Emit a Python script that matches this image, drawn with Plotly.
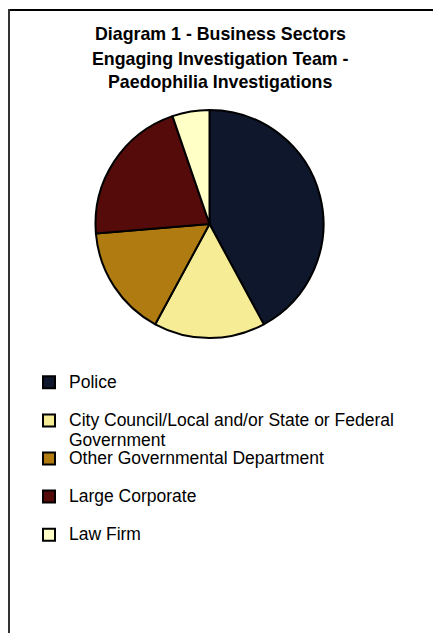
import plotly.graph_objects as go

# ---- data ----
sectors = [
    "Police",
    "City Council/Local and/or State or Federal Government",
    "Other Governmental Department",
    "Large Corporate",
    "Law Firm",
]
engagements = [8, 3, 3, 4, 1]
slice_colors = ["#0f172c", "#f7ec96", "#b07c12", "#560b0b", "#ffffc6"]
title_lines = [
    "Diagram 1 - Business Sectors",
    "Engaging Investigation Team -",
    "Paedophilia Investigations",
]

W, H = 433, 633
FONT = "Arial, Liberation Sans, sans-serif"
LEG_PX = 17.5


def legend_label(name):
    # wrap long label onto two lines like the original
    sp = f'<span style="font-size:{LEG_PX}px">'
    if name.startswith("City Council"):
        a = "City Council/Local and/or State or Federal"
        b = "Government"
        return f'{sp}{a}</span><br><sub>{sp}{b}</span></sub>'
    return f'{sp}{name}</span><br> '


labels = [legend_label(s) for s in sectors]

cx, cy, r = 209.5, 224, 114

fig = go.Figure(
    go.Pie(
        labels=labels,
        values=engagements,
        sort=False,
        direction="clockwise",
        rotation=0,
        marker=dict(colors=slice_colors, line=dict(color="#000000", width=2)),
        textinfo="none",
        hoverinfo="label+percent",
        domain=dict(
            x=[(cx - r) / W, (cx + r) / W],
            y=[1 - (cy + r) / H, 1 - (cy - r) / H],
        ),
    )
)

annotations = []
for i, line in enumerate(title_lines):
    annotations.append(
        dict(
            text=f"<b>{line}</b>",
            x=220 / W,
            y=1 - (34.5 + 24 * i) / H,
            xref="paper",
            yref="paper",
            xanchor="center",
            yanchor="middle",
            showarrow=False,
            font=dict(family=FONT, size=17.8, color="#000000"),
        )
    )

shapes = [
    dict(type="line", xref="paper", yref="paper",
         x0=8 / W, x1=1, y0=1 - 10 / H, y1=1 - 10 / H,
         line=dict(color="#000000", width=2)),
    dict(type="line", xref="paper", yref="paper",
         x0=9 / W, x1=9 / W, y0=1 - 9 / H, y1=0,
         line=dict(color="#333333", width=2)),
]

fig.update_layout(
    width=W,
    height=H,
    margin=dict(l=0, r=0, t=0, b=0),
    paper_bgcolor="#ffffff",
    plot_bgcolor="#ffffff",
    showlegend=True,
    legend=dict(
        x=29 / W,
        y=1 - 367 / H,
        xanchor="left",
        yanchor="top",
        font=dict(family=FONT, size=13.5, color="#000000"),
        valign="top",
        bgcolor="rgba(0,0,0,0)",
        borderwidth=0,
        traceorder="normal",
    ),
    annotations=annotations,
    shapes=shapes,
)

fig.write_html("out.html")
